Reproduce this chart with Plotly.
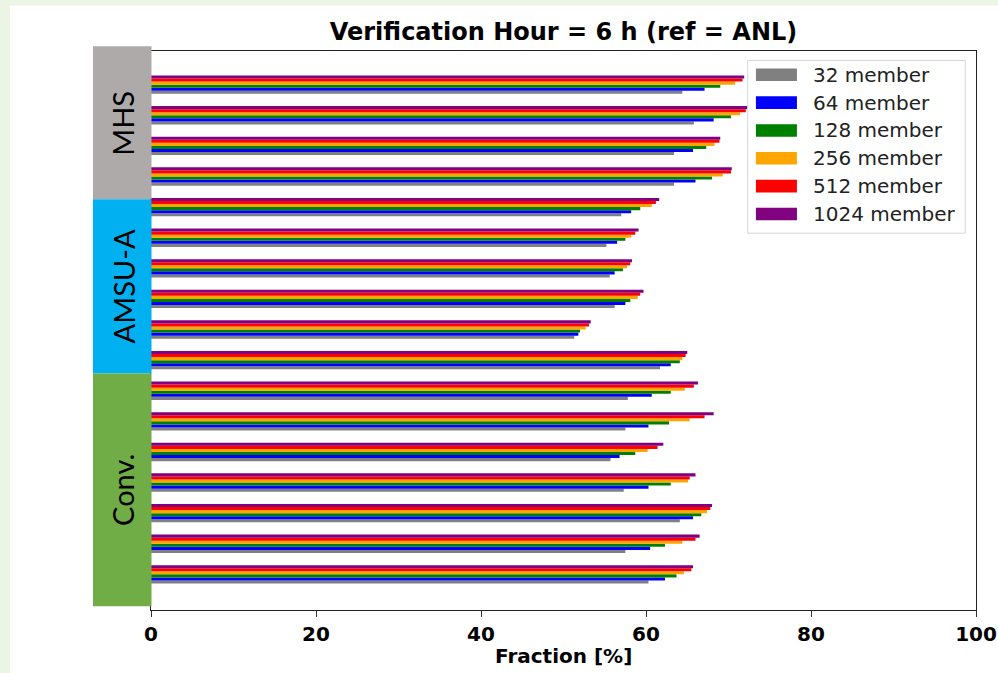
import plotly.graph_objects as go

# ---------------- data (top group first) ----------------
member_labels = ["32 member", "64 member", "128 member", "256 member", "512 member", "1024 member"]
member_colors = ["#808080", "#0000ff", "#008000", "#ffa500", "#ff0000", "#800080"]

m32 = [64.4, 65.8, 63.4, 63.4, 57.0, 55.2, 55.6, 56.2, 51.3, 61.7, 57.8, 57.5, 55.7, 57.3, 64.1, 57.5, 60.3]
m64 = [67.1, 68.2, 65.7, 66.0, 58.2, 56.5, 56.2, 57.5, 51.8, 63.0, 60.7, 60.3, 56.8, 60.3, 65.7, 60.5, 62.3]
m128 = [69.0, 70.3, 67.3, 68.0, 59.3, 57.5, 57.2, 58.1, 52.0, 64.1, 63.0, 62.8, 58.7, 63.0, 66.7, 62.3, 63.7]
m256 = [70.8, 71.4, 68.3, 69.3, 60.7, 58.2, 57.7, 59.0, 52.7, 64.4, 64.7, 65.3, 60.2, 65.1, 67.4, 64.4, 64.6]
m512 = [71.7, 72.1, 68.9, 70.3, 61.2, 58.7, 58.1, 59.3, 53.1, 64.8, 65.8, 67.1, 61.4, 65.3, 67.8, 66.0, 65.5]
m1024 = [71.9, 72.3, 69.0, 70.4, 61.6, 59.1, 58.3, 59.7, 53.3, 65.0, 66.3, 68.2, 62.1, 66.0, 68.0, 66.5, 65.7]
series = [m32, m64, m128, m256, m512, m1024]

sensor_names = ["MHS", "AMSU-A", "Conv."]
sensor_colors = ["#aeaaaa", "#00b0f0", "#70ad47"]

x_ticks = [0, 20, 40, 60, 80, 100]
title_text = "Verification Hour = 6 h (ref = ANL)"
x_title = "Fraction [%]"

# ---------------- layout geometry (pixels) ----------------
FW, FH = 998, 673
L, R, T, B = 151, 975.7, 50.5, 610.5
W, H = R - L, B - T


def xp(px):
    return (px - L) / W


def yp(py):
    return (B - py) / H


n = len(m32)
ypos = list(range(n - 1, -1, -1))

fig = go.Figure()
for name, col, vals in zip(member_labels, member_colors, series):
    fig.add_trace(go.Bar(x=vals, y=ypos, orientation="h", name=name,
                         marker=dict(color=col, line=dict(width=0)),
                         showlegend=False))

shapes = []
annotations = []

# page background strips
shapes.append(dict(type="rect", xref="paper", yref="paper", x0=xp(-5), x1=xp(10), y0=yp(-5), y1=yp(FH + 5),
                   fillcolor="#ecf4e6", line=dict(width=0), layer="below"))
shapes.append(dict(type="rect", xref="paper", yref="paper", x0=xp(-5), x1=xp(FW + 5), y0=yp(-5), y1=yp(5),
                   fillcolor="#ecf4e6", line=dict(width=0), layer="below"))

# sensor blocks
block_edges = [45.7, 199, 373.7, 606.7]
for i, (nm, col) in enumerate(zip(sensor_names, sensor_colors)):
    y0, y1 = block_edges[i], block_edges[i + 1]
    shapes.append(dict(type="rect", xref="paper", yref="paper", x0=xp(93), x1=xp(151.5),
                       y0=yp(y1), y1=yp(y0), fillcolor=col, line=dict(width=0), layer="above"))
    annotations.append(dict(text=nm, xref="paper", yref="paper", x=xp(123), y=yp((y0 + y1) / 2),
                            showarrow=False, textangle=-90, xanchor="center", yanchor="middle",
                            font=dict(family="Lato", size=29, color="black")))

# custom legend
shapes.append(dict(type="rect", xref="paper", yref="paper", x0=xp(747.5), x1=xp(965), y0=yp(233), y1=yp(60),
                   fillcolor="rgba(255,255,255,0.85)", line=dict(color="#d6d6d6", width=1), layer="above"))
row0, drow = 74.3, 27.9
for k, (name, col) in enumerate(zip(member_labels, member_colors)):
    cy = row0 + k * drow
    shapes.append(dict(type="rect", xref="paper", yref="paper", x0=xp(755.7), x1=xp(796.7),
                       y0=yp(cy + 6.3), y1=yp(cy - 6.3), fillcolor=col, line=dict(width=0), layer="above"))
    annotations.append(dict(text=name, xref="paper", yref="paper", x=xp(810.5), y=yp(cy),
                            showarrow=False, xanchor="left", yanchor="middle",
                            font=dict(family="DejaVu Sans", size=20, color="#222222")))

# x-axis title
annotations.append(dict(text="<b>" + x_title + "</b>", xref="paper", yref="paper", x=0.5, y=yp(657),
                        showarrow=False, xanchor="center", yanchor="middle",
                        font=dict(family="DejaVu Sans", size=20, color="black")))

fig.update_layout(
    width=FW, height=FH,
    margin=dict(l=L, r=FW - R, t=T, b=FH - B, pad=0),
    paper_bgcolor="white", plot_bgcolor="white",
    barmode="group", bargap=0.4, bargroupgap=0,
    title=dict(text="<b>" + title_text + "</b>", x=0.5, xref="paper", xanchor="center",
               y=1 - 32 / FH, yref="container", yanchor="middle",
               font=dict(family="DejaVu Sans", size=24, color="black")),
    xaxis=dict(range=[0, 100], tickvals=x_ticks, ticktext=["<b>%d</b>" % v for v in x_ticks],
               ticks="outside", ticklen=6, tickcolor="#333333", tickwidth=1,
               showline=True, linecolor="#222222", linewidth=1, mirror=True,
               showgrid=False, zeroline=False, automargin=False,
               tickfont=dict(family="DejaVu Sans", size=20, color="black")),
    yaxis=dict(range=[-1.164, 17.10], showticklabels=False, ticks="", showgrid=False,
               zeroline=False, showline=True, linecolor="#222222", linewidth=1, mirror=True,
               automargin=False),
    shapes=shapes, annotations=annotations,
)

fig.write_html("out.html", config={"displayModeBar": False},
               post_script="document.body.style.margin='0';document.body.style.overflow='hidden';")
